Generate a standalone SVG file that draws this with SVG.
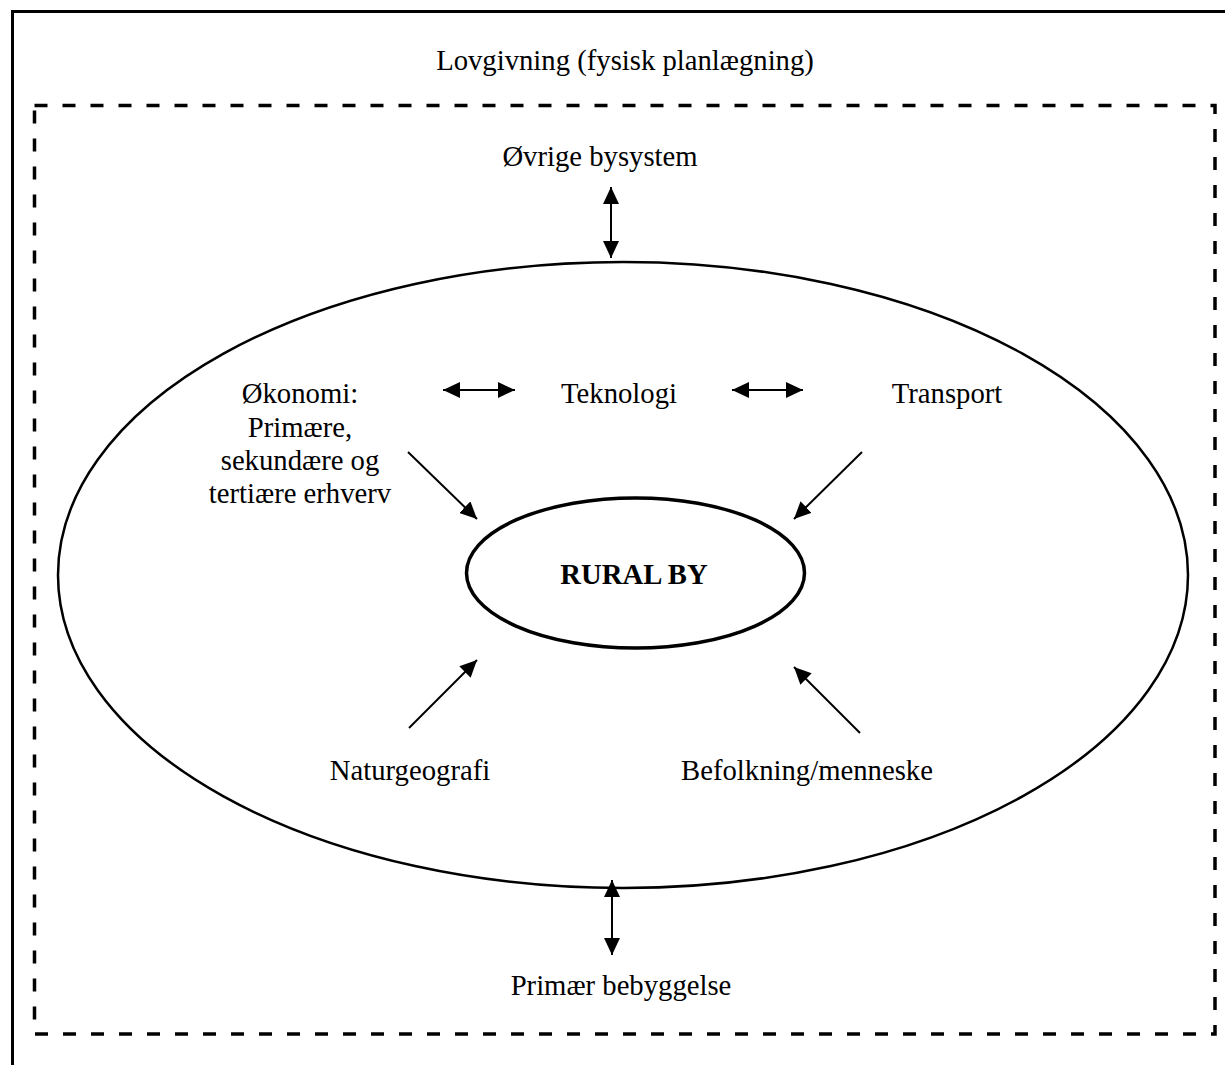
<svg xmlns="http://www.w3.org/2000/svg" width="1225" height="1065" viewBox="0 0 1225 1065">
<style>
text{font-family:"Liberation Serif","Times New Roman",serif;font-size:28.7px;fill:#000;text-anchor:middle}
.b{font-weight:bold}
.c{stroke:#000;stroke-width:2;fill:none}
</style>
<defs>
<marker id="ah" markerUnits="userSpaceOnUse" markerWidth="18" markerHeight="16" refX="17" refY="8" orient="auto-start-reverse">
<path d="M0,0 L17,8 L0,16 Z" fill="#000"/>
</marker>
</defs>
<rect width="1225" height="1065" fill="#fff"/>
<g id="frame">
<path d="M12.5,1065 V11.5 H1225" fill="none" stroke="#000" stroke-width="3"/>
</g>
<g id="lovgivning">
<rect x="34.5" y="105.5" width="1180.5" height="928.5" fill="none" stroke="#000" stroke-width="3.5" stroke-dasharray="13 15"/>
<text x="625" y="70">Lovgivning (fysisk planlægning)</text>
</g>
<g id="ovrige"><text x="600" y="166">Øvrige bysystem</text></g>
<g id="omraade"><ellipse cx="623" cy="575" rx="565" ry="313" fill="none" stroke="#000" stroke-width="2.5"/></g>
<g id="okonomi">
<text x="300" y="403">Økonomi:</text>
<text x="300" y="437">Primære,</text>
<text x="300" y="470">sekundære og</text>
<text x="300" y="503">tertiære erhverv</text>
</g>
<g id="teknologi"><text x="619" y="403">Teknologi</text></g>
<g id="transport"><text x="947" y="403">Transport</text></g>
<g id="ruralby">
<ellipse cx="635.5" cy="573" rx="169" ry="75" fill="none" stroke="#000" stroke-width="3.5"/>
<text class="b" x="634" y="584">RURAL BY</text>
</g>
<g id="naturgeografi"><text x="410" y="780">Naturgeografi</text></g>
<g id="befolkning"><text x="807" y="780">Befolkning/menneske</text></g>
<g id="primaer"><text x="621" y="995">Primær bebyggelse</text></g>
<g id="connectors" class="c">
<line x1="611" y1="187" x2="611" y2="258" marker-start="url(#ah)" marker-end="url(#ah)"/>
<line x1="612" y1="880" x2="612" y2="955" marker-start="url(#ah)" marker-end="url(#ah)"/>
<line x1="443" y1="390" x2="515" y2="390" marker-start="url(#ah)" marker-end="url(#ah)"/>
<line x1="732" y1="390" x2="803" y2="390" marker-start="url(#ah)" marker-end="url(#ah)"/>
<line x1="408" y1="452" x2="477" y2="519" marker-end="url(#ah)"/>
<line x1="862" y1="452" x2="794" y2="519" marker-end="url(#ah)"/>
<line x1="409" y1="728" x2="477" y2="660" marker-end="url(#ah)"/>
<line x1="860" y1="733" x2="794" y2="667" marker-end="url(#ah)"/>
</g>
</svg>
